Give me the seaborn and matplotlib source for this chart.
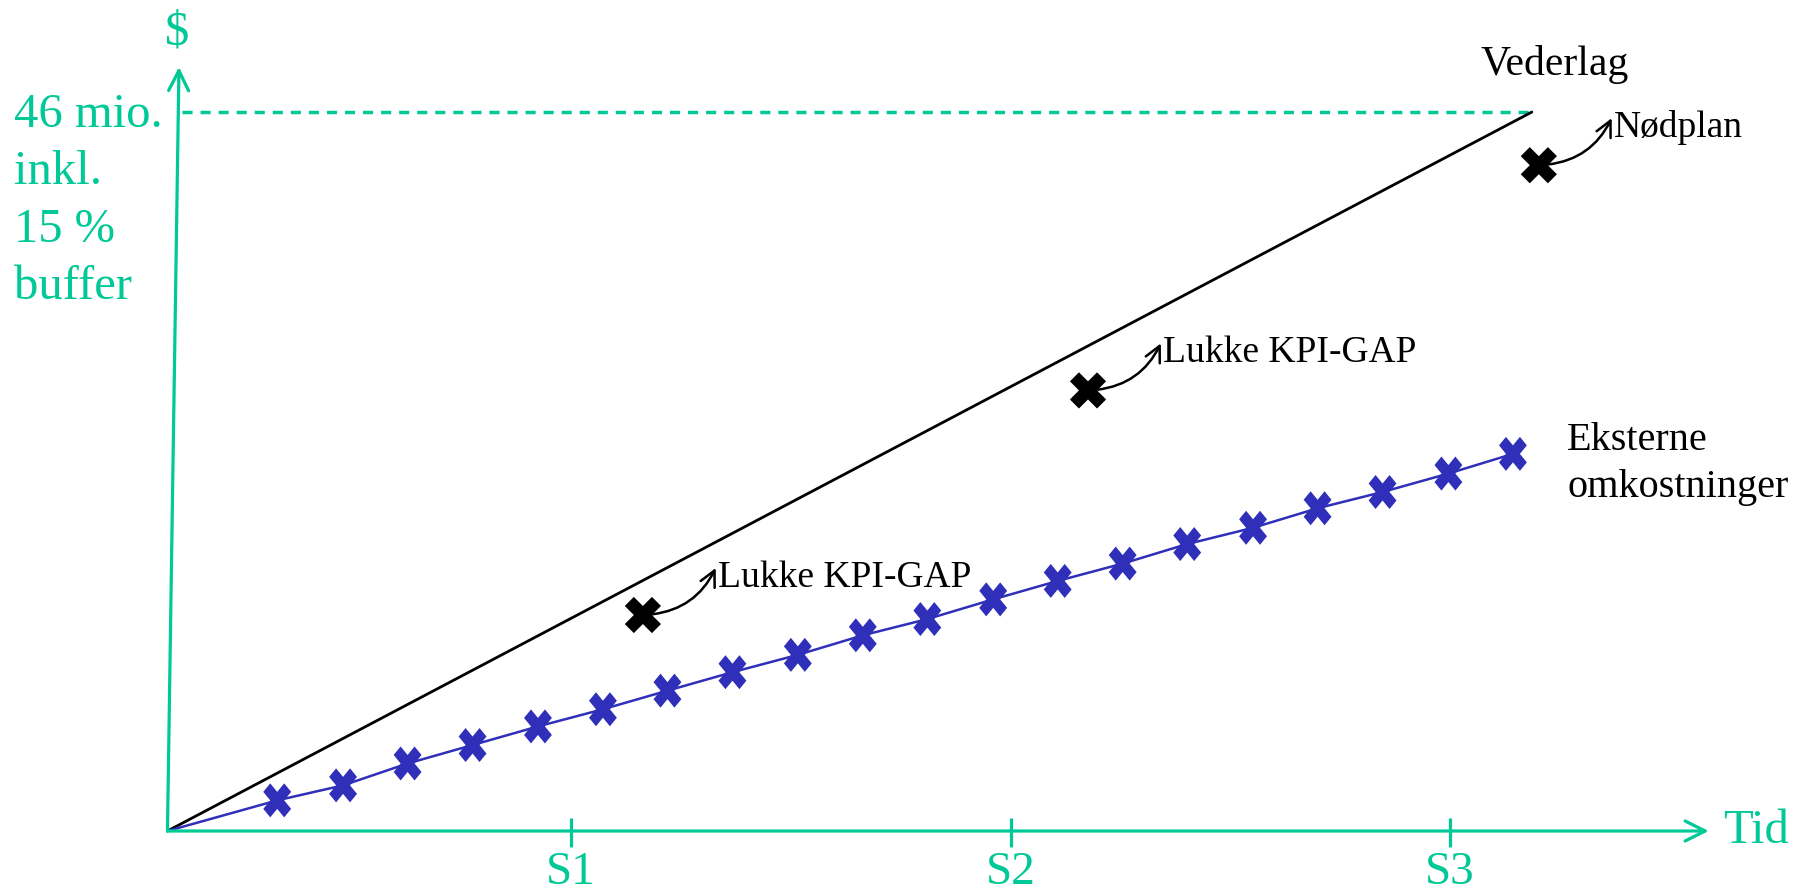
import matplotlib
matplotlib.use("Agg")
import matplotlib.pyplot as plt
import seaborn as sns
from matplotlib.markers import MarkerStyle
from matplotlib.transforms import Affine2D

# ---------------- data (time in arbitrary units, money in mio.) ----------------
sprint_labels = ["S1", "S2", "S3"]
sprint_pos = [9.19, 19.21, 29.21]

budget_label = ["46 mio.", "inkl.", "15 %", "buffer"]
budget_total = 46.0
budget_line_x = [0.33, 31.08]

vederlag_x = [0.0, 31.08]
vederlag_y = [0.0, 46.0]

ekstern_x = [2.50, 4.00, 5.47, 6.95, 8.44, 9.92, 11.39, 12.87, 14.36, 15.84,
             17.31, 18.81, 20.28, 21.76, 23.23, 24.73, 26.20, 27.68, 29.18, 30.65]
ekstern_y = [1.96, 2.92, 4.32, 5.50, 6.69, 7.79, 8.98, 10.16, 11.27, 12.52,
             13.56, 14.82, 16.00, 17.11, 18.36, 19.40, 20.65, 21.69, 22.87, 24.13]

event_x = [10.83, 20.97, 31.24]
event_y = [13.82, 28.19, 42.60]
event_labels = ["Lukke KPI-GAP", "Lukke KPI-GAP", "Nødplan"]

# ---------------- style ----------------
GREEN = "#00c896"
BLUE = "#2f2fba"
sns.set_theme(style="white")
plt.rcParams["font.family"] = ["Liberation Serif", "DejaVu Serif"]
plt.rcParams["text.color"] = "black"

fig = plt.figure(figsize=(18.11, 8.92), dpi=100)
ax = fig.add_axes([0, 0, 1, 1])
ax.set_xlim(-3.815, 37.44)
ax.set_ylim(-3.903, 53.17)
ax.axis("off")

# ---------------- axes with arrows ----------------
axis_kw = dict(arrowstyle="->", lw=2.3, color=GREEN, mutation_scale=36,
               shrinkA=0, shrinkB=0)
ax.annotate("", xy=(35.11, 0), xytext=(0, 0), arrowprops=axis_kw)
ax.annotate("", xy=(0.262, 48.88), xytext=(0, 0), arrowprops=axis_kw)
ax.vlines(sprint_pos, -1.02, 0.83, color=GREEN, lw=2.3)
for lab, xp in zip(sprint_labels, sprint_pos):
    ax.text(xp, -3.40, lab, ha="center", va="baseline", fontsize=34, color=GREEN)
ax.text(35.43, -0.77, "Tid", ha="left", va="baseline", fontsize=35, color=GREEN)
ax.text(0.216, 50.35, "$", ha="center", va="baseline", fontsize=35, color=GREEN)

# budget dashed line + label
ax.plot(budget_line_x, [budget_total, budget_total], color=GREEN, lw=2.5,
        dashes=(2.9, 2.3))
for i, line in enumerate(budget_label):
    ax.text(-3.50, 45.04 - i * 3.67, line, ha="left", va="baseline",
            fontsize=35, color=GREEN)

# ---------------- series ----------------
sns.lineplot(x=vederlag_x, y=vederlag_y, color="black", lw=2.0, ax=ax)
ax.text(29.92, 48.37, "Vederlag", ha="left", va="baseline", fontsize=30,
        color="black")

sns.lineplot(x=[0.0] + ekstern_x, y=[0.0] + ekstern_y, color=BLUE, lw=1.8, ax=ax)
xm = MarkerStyle("X")
x_path = xm.get_path().transformed(xm.get_transform())
blue_marker = x_path.transformed(Affine2D().scale(1, 1.22))
sns.scatterplot(x=ekstern_x, y=ekstern_y, marker=blue_marker, s=600,
                color=BLUE, edgecolor="none", linewidth=0, ax=ax, zorder=4)
ax.text(31.89, 24.38, "Eksterne", ha="left", va="baseline", fontsize=29,
        color="black")
ax.text(31.89, 21.37, "omkostninger", ha="left", va="baseline", fontsize=29,
        color="black")

sns.scatterplot(x=event_x, y=event_y, marker=x_path, s=680, color="black",
                edgecolor="none", linewidth=0, ax=ax, zorder=4)
for ex, ey, lab in zip(event_x, event_y, event_labels):
    tip = (ex + 1.66, ey + 3.01)
    ax.annotate("", xy=tip, xytext=(ex, ey),
                arrowprops=dict(arrowstyle="->", lw=1.8, color="black",
                                mutation_scale=28, shrinkA=7, shrinkB=0,
                                connectionstyle="arc3,rad=0.3"))
    ax.text(tip[0] + 0.05, ey + 1.79, lab, ha="left", va="baseline",
            fontsize=27, color="black")

fig.savefig("out.png", dpi=100)
